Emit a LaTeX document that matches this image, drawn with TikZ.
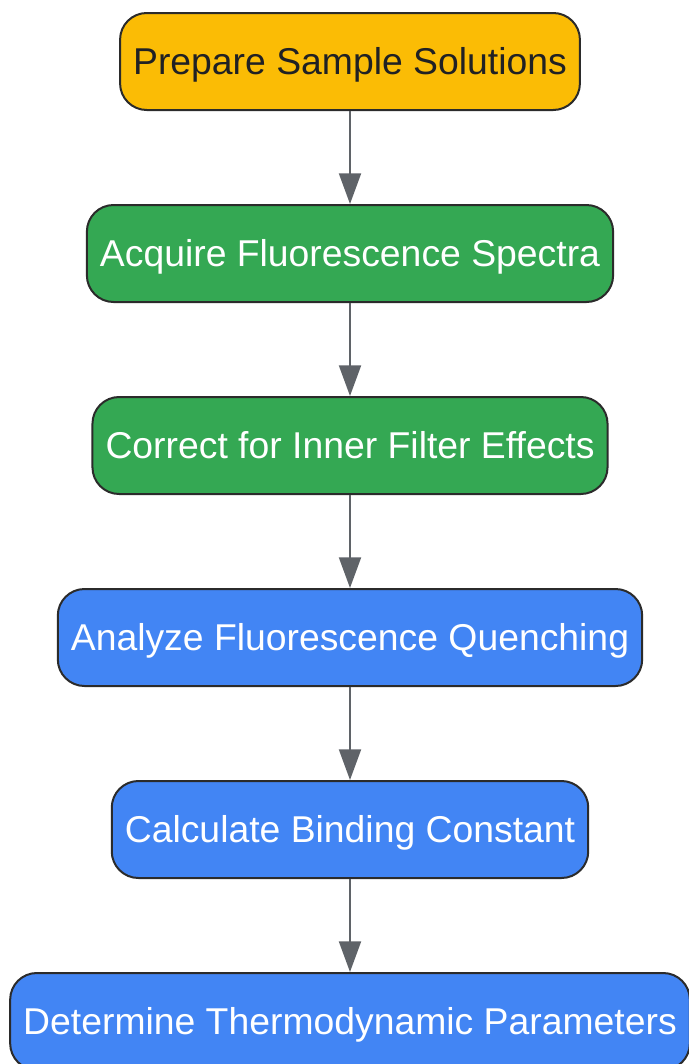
\documentclass[tikz,border=0pt]{standalone}
\usepackage{fontspec}
\setmainfont{Liberation Sans}
\usetikzlibrary{positioning,arrows.meta}

\definecolor{stepyellow}{HTML}{FBBC05}
\definecolor{stepgreen}{HTML}{34A853}
\definecolor{stepblue}{HTML}{4285F4}
\definecolor{edgegray}{HTML}{5F6368}
\definecolor{textdark}{HTML}{202124}
\definecolor{borderdark}{HTML}{2B2B2B}

\begin{document}
\begin{tikzpicture}[x=0.75pt,y=-0.75pt,
  box/.style={draw=borderdark,line width=1.5pt,rounded corners=20pt,
    minimum height=72.75pt,inner xsep=9.8pt,text height=20.2pt,text depth=0pt,
    font=\fontsize{28}{33}\selectfont},
  prepbox/.style={box,fill=stepyellow,text=textdark},
  measbox/.style={box,fill=stepgreen,text=white},
  anabox/.style={box,fill=stepblue,text=white},
  flow/.style={draw=edgegray,line width=1.5pt,-{Triangle[width=16.5pt,length=23pt]}},
  node distance=69.75pt]

\useasboundingbox (0,0) rectangle (689,1064);

% The steps
\node[prepbox] (prep) at (350,61.5) {Prepare Sample Solutions};
\node[measbox,below=of prep] (acquire) {Acquire Fluorescence Spectra};
\node[measbox,below=of acquire] (correct) {Correct for Inner Filter Effects};
\node[anabox,below=of correct] (quench) {Analyze Fluorescence Quenching};
\node[anabox,below=of quench] (binding) {Calculate Binding Constant};
\node[anabox,below=of binding] (thermo) {Determine Thermodynamic Parameters};

% The arrows
\foreach \from/\to in {prep/acquire,acquire/correct,correct/quench,quench/binding,binding/thermo}
{
	\draw[flow] (\from) -- (\to);
}

\end{tikzpicture}
\end{document}
